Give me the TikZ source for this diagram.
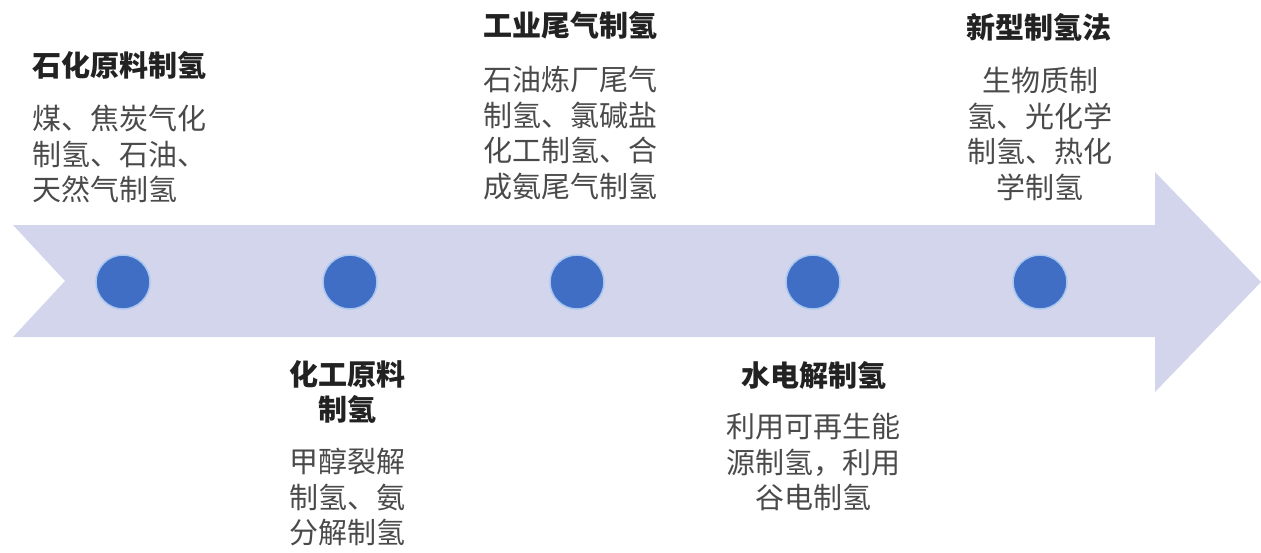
\documentclass[tikz,border=0pt]{standalone}
\usepackage{fontspec}
\setmainfont{Noto Sans CJK SC}
\definecolor{arrowc}{HTML}{D2D5EB}
\definecolor{dotc}{HTML}{3F6EC4}
\definecolor{ringc}{HTML}{A9C6F0}
\definecolor{titlec}{HTML}{222222}
\definecolor{bodyc}{HTML}{4A4A4A}
\begin{document}
\begin{tikzpicture}[x=1pt,y=-1pt,
  ttl/.style={font=\fontsize{29}{35}\selectfont\bfseries, text=titlec, inner sep=0pt},
  bdy/.style={font=\fontsize{29}{35.5}\selectfont, text=bodyc, inner sep=0pt},
  dot/.style={circle, fill=dotc, draw=ringc, line width=1.5pt, minimum size=54pt, inner sep=0pt}]
\useasboundingbox (0,0) rectangle (1261,552);
\fill[arrowc] (13,225) -- (1155,225) -- (1155,172) -- (1261,282) -- (1155,392) -- (1155,337) -- (13,337) -- (65,281) -- cycle;
\node[dot] (c1) at (123,282) {};
\node[dot] (c2) at (350,282) {};
\node[dot] (c3) at (577,282) {};
\node[dot] (c4) at (813,282) {};
\node[dot] (c5) at (1040,282) {};
% group 1
\node[ttl, anchor=west] (t1) at (32,65) {石化原料制氢};
\node[bdy, anchor=west, align=left] (b1) at (32,154) {煤、焦炭气化\\制氢、石油、\\天然气制氢};
% group 2
\node[ttl, align=center] (t2) at (347,392) {化工原料\\制氢};
\node[bdy, align=center] (b2) at (347,497) {甲醇裂解\\制氢、氨\\分解制氢};
% group 3
\node[ttl, anchor=west] (t3) at (483,25) {工业尾气制氢};
\node[bdy, anchor=west, align=left] (b3) at (483,133) {石油炼厂尾气\\制氢、氯碱盐\\化工制氢、合\\成氨尾气制氢};
% group 4
\node[ttl] (t4) at (814,375) {水电解制氢};
\node[bdy, align=center] (b4) at (813,462) {利用可再生能\\源制氢，利用\\谷电制氢};
% group 5
\node[ttl] (t5) at (1039,27) {新型制氢法};
\node[bdy, align=center] (b5) at (1040,134) {生物质制\\氢、光化学\\制氢、热化\\学制氢};
\end{tikzpicture}
\end{document}
